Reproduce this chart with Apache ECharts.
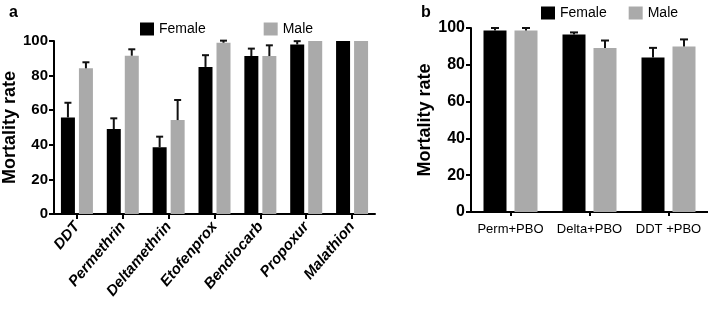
<!DOCTYPE html>
<html>
<head>
<meta charset="utf-8">
<script src="https://cdn.jsdelivr.net/npm/echarts@6/dist/echarts.min.js"></script>
<style>
  html, body { margin: 0; padding: 0; background: #fff; }
  #main { width: 708px; height: 311px; }
</style>
</head>
<body>
<div id="main"></div>
<script>
// panel a: insecticides
var catA = ['DDT', 'Permethrin', 'Deltamethrin', 'Etofenprox', 'Bendiocarb', 'Propoxur', 'Malathion'];
var femaleA = [55.8, 49.1, 38.6, 85.0, 91.3, 98.0, 100];
var femaleErrA = [8.5, 6.2, 6.1, 6.8, 4.3, 1.9, 0];
var maleA = [84.2, 91.5, 54.3, 99.0, 91.3, 100, 100];
var maleErrA = [3.5, 3.7, 11.6, 1.2, 6.2, 0, 0];

// panel b: synergist (PBO)
var catB = ['Perm+PBO', 'Delta+PBO', 'DDT +PBO'];
var femaleB = [98.7, 96.5, 84.0];
var femaleErrB = [1.3, 1.1, 5.2];
var maleB = [98.7, 89.1, 90.0];
var maleErrB = [1.3, 4.1, 3.8];

var yTicks = [0, 20, 40, 60, 80, 100];

var FONT = '"Liberation Sans", Arial, sans-serif';
var FEMALE_COLOR = '#000000';
var MALE_COLOR = '#aaaaaa';

// bar sizes per panel
var barWA = 14, gapA = 4;
var barWB = 23, gapB = 8;

function errData(mean, err) {
	var out = [];
	for (var i = 0; i < mean.length; i++) {
		if (err[i] > 0) out.push([i, mean[i] + err[i], mean[i]]);
	}
	return out;
}

// draws the upper whisker + cap, shifted onto the female/male bar
function errRender(offset, capW) {
	return function(params, api) {
		var i = api.value(0);
		var top = api.coord([i, api.value(1)]);
		var bot = api.coord([i, api.value(2)]);
		var x = top[0] + offset;
		var st = { stroke: '#111', lineWidth: 2 };
		return {
			type: 'group',
			children: [
				{ type: 'line', shape: { x1: x, y1: bot[1], x2: x, y2: top[1] }, style: st },
				{ type: 'line', shape: { x1: x - capW / 2, y1: top[1], x2: x + capW / 2, y2: top[1] }, style: st }
			]
		};
	};
}

function yAxisOpt(gridIndex, fontSize, nameGap) {
	return {
		gridIndex: gridIndex,
		type: 'value',
		min: 0,
		max: 100,
		interval: 20,
		name: 'Mortality rate',
		nameLocation: 'middle',
		nameGap: nameGap,
		nameTextStyle: { fontFamily: FONT, fontWeight: 'bold', fontSize: 18, color: '#000' },
		axisLine: { show: true, lineStyle: { color: '#000', width: 2 } },
		axisTick: { show: true, length: 5, lineStyle: { color: '#000', width: 2 } },
		axisLabel: {
			margin: 6,
			fontFamily: FONT,
			fontWeight: 'bold',
			fontSize: fontSize,
			color: '#000',
			formatter: function(v) { return yTicks.indexOf(v) >= 0 ? v : ''; }
		},
		splitLine: { show: false }
	};
}

var chart = echarts.init(document.getElementById('main'));

var option = {
	animation: false,
	backgroundColor: '#fff',
	title: [
		{ text: 'a', left: 4, top: 0, textStyle: { fontFamily: FONT, fontWeight: 'bold', fontSize: 16, color: '#000' } },
		{ text: 'b', left: 416, top: 0, textStyle: { fontFamily: FONT, fontWeight: 'bold', fontSize: 16, color: '#000' } }
	],
	legend: [
		{
			data: ['Female', 'Male'],
			left: 135, top: 17,
			icon: 'rect', itemWidth: 14, itemHeight: 13, itemGap: 58,
			textStyle: { fontFamily: FONT, fontSize: 14, color: '#000' },
			selectedMode: false
		},
		{
			data: ['Female', 'Male'],
			left: 536, top: 1,
			icon: 'rect', itemWidth: 14, itemHeight: 13, itemGap: 22,
			textStyle: { fontFamily: FONT, fontSize: 14, color: '#000' },
			selectedMode: false
		}
	],
	grid: [
		{ left: 54, top: 41, width: 321, height: 173 },
		{ left: 471, top: 28, width: 240, height: 184 }
	],
	xAxis: [
		{
			gridIndex: 0,
			type: 'category',
			data: catA,
			axisLine: { lineStyle: { color: '#000', width: 2 } },
			axisTick: { show: true, alignWithLabel: true, length: 5, lineStyle: { color: '#000', width: 2 } },
			axisLabel: {
				interval: 0, rotate: 50, margin: 10,
				fontFamily: FONT, fontWeight: 'bold', fontStyle: 'italic', fontSize: 15, color: '#000'
			}
		},
		{
			gridIndex: 1,
			type: 'category',
			data: catB,
			axisLine: { lineStyle: { color: '#000', width: 2 } },
			axisTick: { show: true, alignWithLabel: true, length: 4, lineStyle: { color: '#000', width: 2 } },
			axisLabel: {
				interval: 0, margin: 11,
				fontFamily: FONT,
				fontSize: 13, color: '#000'
			}
		}
	],
	yAxis: [yAxisOpt(0, 15, 29), yAxisOpt(1, 16, 35)],
	series: [
		{ name: 'Female', type: 'bar', xAxisIndex: 0, yAxisIndex: 0, data: femaleA, barWidth: barWA, barGap: (gapA / barWA * 100) + '%', itemStyle: { color: FEMALE_COLOR } },
		{ name: 'Male', type: 'bar', xAxisIndex: 0, yAxisIndex: 0, data: maleA, barWidth: barWA, itemStyle: { color: MALE_COLOR } },
		{ name: 'Female', type: 'bar', xAxisIndex: 1, yAxisIndex: 1, data: femaleB, barWidth: barWB, barGap: (gapB / barWB * 100) + '%', itemStyle: { color: FEMALE_COLOR } },
		{ name: 'Male', type: 'bar', xAxisIndex: 1, yAxisIndex: 1, data: maleB, barWidth: barWB, itemStyle: { color: MALE_COLOR } },
		{ name: 'errFA', type: 'custom', xAxisIndex: 0, yAxisIndex: 0, z: 5, data: errData(femaleA, femaleErrA), renderItem: errRender(-(barWA + gapA) / 2, 7) },
		{ name: 'errMA', type: 'custom', xAxisIndex: 0, yAxisIndex: 0, z: 5, data: errData(maleA, maleErrA), renderItem: errRender((barWA + gapA) / 2, 7) },
		{ name: 'errFB', type: 'custom', xAxisIndex: 1, yAxisIndex: 1, z: 5, data: errData(femaleB, femaleErrB), renderItem: errRender(-(barWB + gapB) / 2, 8) },
		{ name: 'errMB', type: 'custom', xAxisIndex: 1, yAxisIndex: 1, z: 5, data: errData(maleB, maleErrB), renderItem: errRender((barWB + gapB) / 2, 8) }
	]
};

chart.setOption(option);
</script>
</body>
</html>
